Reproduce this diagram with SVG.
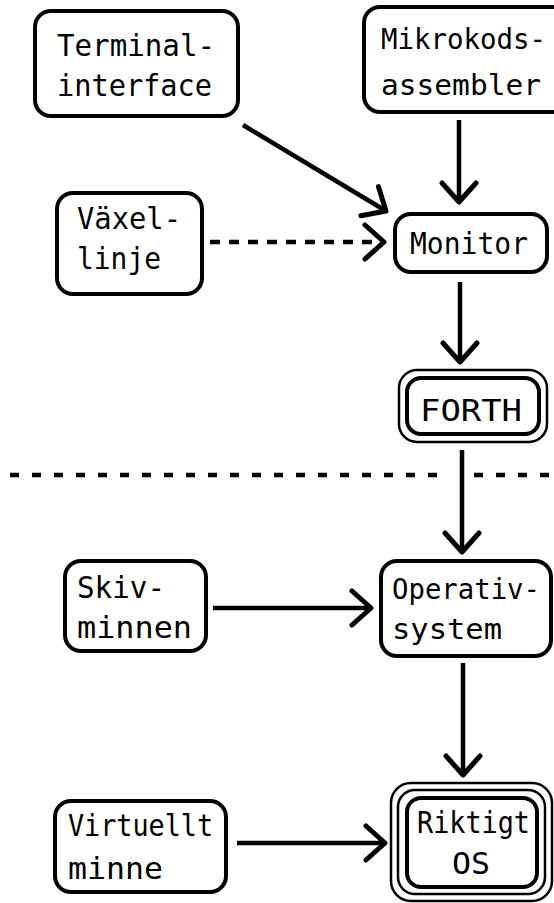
<svg xmlns="http://www.w3.org/2000/svg" width="554" height="903" viewBox="0 0 554 903">
<style>
.box{fill:#fff;stroke:#000;stroke-width:4}
.thin{fill:none;stroke:#000;stroke-width:2.5}
.lbl{font-family:"DejaVu Sans Mono","Liberation Mono",monospace;font-size:31px;fill:#000}
.sm{font-size:28.5px}
.con{fill:none;stroke:#000;stroke-width:4.5}
.dash{stroke-dasharray:10 9}
</style>
<defs>
<marker id="ah" viewBox="-24 -20 28 40" refX="0" refY="0" markerWidth="28" markerHeight="40" markerUnits="userSpaceOnUse" orient="auto">
<path d="M-19,-17 L0,0 L-19,17" fill="none" stroke="#000" stroke-width="5" stroke-linejoin="round" stroke-linecap="round"/>
</marker>
</defs>
<rect width="554" height="903" fill="#fff"/>
<g id="connectors">
<line class="con" x1="243" y1="125" x2="386" y2="211" marker-end="url(#ah)"/>
<line class="con" x1="459" y1="120" x2="459" y2="202" marker-end="url(#ah)"/>
<line class="con dash" x1="210" y1="242" x2="384" y2="242" marker-end="url(#ah)"/>
<line class="con" x1="460" y1="282" x2="460" y2="362" marker-end="url(#ah)"/>
<line class="con" x1="462" y1="450" x2="462" y2="552" marker-end="url(#ah)"/>
<line class="con" x1="213" y1="608" x2="371" y2="608" marker-end="url(#ah)"/>
<line class="con" x1="463" y1="663" x2="463" y2="775" marker-end="url(#ah)"/>
<line class="con" x1="237" y1="843" x2="385" y2="843" marker-end="url(#ah)"/>
</g>
<g id="separator">
<line class="con" x1="10" y1="475" x2="448" y2="475" stroke-dasharray="9 13"/>
<line class="con" x1="474" y1="475" x2="554" y2="475" stroke-dasharray="9 13"/>
</g>
<g id="terminal">
<rect class="box" x="35" y="11" width="203" height="105" rx="16"/>
<text class="lbl" x="57" y="56" textLength="158" lengthAdjust="spacingAndGlyphs">Terminal-</text>
<text class="lbl" x="57" y="96" textLength="155" lengthAdjust="spacingAndGlyphs">interface</text>
</g>
<g id="mikrokods">
<rect class="box" x="364" y="7" width="210" height="105" rx="16"/>
<text class="lbl sm" x="381" y="49" textLength="165" lengthAdjust="spacingAndGlyphs">Mikrokods-</text>
<text class="lbl sm" x="381" y="95" textLength="160" lengthAdjust="spacingAndGlyphs">assembler</text>
</g>
<g id="vaxel">
<rect class="box" x="57" y="193" width="145" height="101" rx="16"/>
<text class="lbl" x="77" y="229" textLength="104" lengthAdjust="spacingAndGlyphs">Växel-</text>
<text class="lbl" x="77" y="269" textLength="84" lengthAdjust="spacingAndGlyphs">linje</text>
</g>
<g id="monitor">
<rect class="box" x="395" y="214" width="152" height="58" rx="16"/>
<text class="lbl" x="410" y="254" textLength="118" lengthAdjust="spacingAndGlyphs">Monitor</text>
</g>
<g id="forth">
<rect class="thin" x="399" y="370" width="148" height="72" rx="18"/>
<rect class="box" x="407" y="378" width="132" height="56" rx="14"/>
<text class="lbl" x="420" y="421" textLength="102" lengthAdjust="spacingAndGlyphs">FORTH</text>
</g>
<g id="skiv">
<rect class="box" x="65" y="561" width="141" height="90" rx="16"/>
<text class="lbl" x="77" y="598" textLength="88" lengthAdjust="spacingAndGlyphs">Skiv-</text>
<text class="lbl" x="77" y="638" textLength="115" lengthAdjust="spacingAndGlyphs">minnen</text>
</g>
<g id="operativ">
<rect class="box" x="381" y="561" width="170" height="95" rx="16"/>
<text class="lbl sm" x="392" y="599" textLength="148" lengthAdjust="spacingAndGlyphs">Operativ-</text>
<text class="lbl sm" x="392" y="639" textLength="110" lengthAdjust="spacingAndGlyphs">system</text>
</g>
<g id="virtuellt">
<rect class="box" x="55" y="801" width="171" height="91" rx="16"/>
<text class="lbl" x="68" y="836" textLength="145" lengthAdjust="spacingAndGlyphs">Virtuellt</text>
<text class="lbl" x="68" y="879" textLength="95" lengthAdjust="spacingAndGlyphs">minne</text>
</g>
<g id="riktigt">
<rect class="thin" x="391" y="783" width="161" height="118" rx="20"/>
<rect class="thin" x="398" y="790" width="147" height="104" rx="17"/>
<rect class="box" x="407" y="798" width="130" height="89" rx="14"/>
<text class="lbl" x="417" y="833" textLength="113" lengthAdjust="spacingAndGlyphs">Riktigt</text>
<text class="lbl" x="452" y="874" textLength="38" lengthAdjust="spacingAndGlyphs">OS</text>
</g>
</svg>
